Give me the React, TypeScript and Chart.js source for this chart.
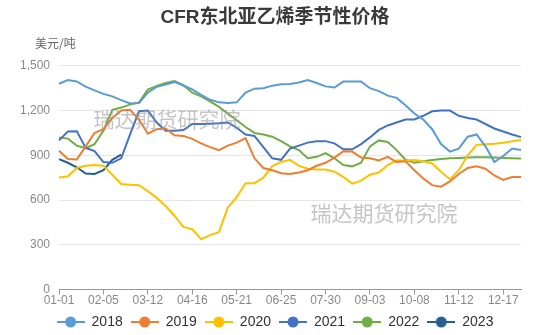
import React, { useEffect, useRef } from 'react';
import { Chart, registerables } from 'chart.js';

Chart.register(...registerables);

const TITLE = 'CFR东北亚乙烯季节性价格';
const UNIT = '美元/吨';
const WATERMARK = '瑞达期货研究院';
const TICK_LABELS = ['01-01', '02-05', '03-12', '04-16', '05-21', '06-25', '07-30', '09-03', '10-08', '11-12', '12-17'];
const Y_TICKS = [0, 300, 600, 900, 1200, 1500];
const YEARS = ['2018', '2019', '2020', '2021', '2022', '2023'];
const COLORS = ['#5B9BD5', '#ED7D31', '#FFC000', '#4472C4', '#70AD47', '#255E91'];
const MONTH_DAYS = [31, 28, 31, 30, 31, 30, 31, 31, 30, 31, 30, 31];

// day-of-year index (0 = 01-01) of each weekly reading
const SAMPLE_DAYS = [0, 7, 14, 21, 28, 35, 42, 49, 56, 63, 70, 77, 84, 91, 98, 105, 112, 119, 126, 133, 140, 147, 154, 161, 168, 175, 182, 189, 196, 203, 210, 217, 224, 231, 238, 245, 252, 259, 266, 273, 280, 287, 294, 301, 308, 315, 322, 329, 336, 343, 350, 357, 364];

const S2018 = [1380, 1405, 1395, 1360, 1335, 1312, 1295, 1270, 1248, 1250, 1320, 1360, 1375, 1392, 1368, 1342, 1305, 1272, 1255, 1250, 1255, 1320, 1347, 1350, 1367, 1376, 1378, 1388, 1405, 1385, 1362, 1354, 1394, 1394, 1394, 1350, 1330, 1300, 1285, 1235, 1180, 1140, 1075, 975, 925, 945, 1025, 1040, 960, 855, 895, 945, 935];
const S2019 = [930, 875, 872, 960, 1050, 1075, 1150, 1200, 1205, 1140, 1045, 1075, 1080, 1035, 1030, 1010, 980, 955, 935, 965, 985, 1015, 880, 815, 800, 780, 775, 785, 800, 830, 850, 885, 928, 925, 885, 880, 865, 890, 855, 860, 800, 745, 700, 690, 725, 775, 815, 826, 810, 765, 735, 755, 755];
const S2020 = [752, 760, 815, 830, 835, 830, 770, 708, 702, 700, 660, 615, 560, 495, 420, 405, 338, 365, 385, 550, 620, 713, 713, 750, 828, 855, 870, 830, 810, 805, 805, 790, 755, 710, 730, 770, 785, 835, 865, 865, 868, 860, 845, 790, 740, 800, 900, 970, 975, 978, 985, 995, 1002];
const S2021 = [1000, 1060, 1062, 950, 928, 855, 850, 880, 1040, 1195, 1200, 1120, 1064, 1064, 1070, 1110, 1110, 1112, 1115, 1120, 1085, 1040, 1030, 955, 880, 870, 945, 965, 985, 995, 995, 980, 940, 940, 975, 1020, 1070, 1100, 1120, 1140, 1140, 1165, 1195, 1200, 1200, 1165, 1150, 1140, 1110, 1080, 1060, 1040, 1022];
const S2022 = [1020, 1012, 965, 948, 975, 1065, 1205, 1220, 1240, 1255, 1340, 1365, 1385, 1398, 1370, 1320, 1295, 1262, 1225, 1180, 1135, 1090, 1050, 1040, 1025, 995, 960, 935, 880, 890, 915, 880, 835, 826, 850, 960, 1000, 990, 935, 870, 850, 860, 868, 875, 880, 882, 885, 887, 887, 885, 882, 880, 878];
const S2023 = [875, 850, 820, 778, 775, 800, 870, 905];

const SERIES = [S2018, S2019, S2020, S2021, S2022, S2023];

// category labels MM-DD for every day of the year
const DAY_LABELS: string[] = [];
MONTH_DAYS.forEach((n, m) => {
  for (let d = 1; d <= n; d++) {
    DAY_LABELS.push(String(m + 1).padStart(2, '0') + '-' + String(d).padStart(2, '0'));
  }
});

const FONT = "'Helvetica Neue', Arial, 'Liberation Sans', 'Noto Sans CJK SC', sans-serif";
const CJK_FONT = "'Noto Sans CJK SC', sans-serif";

function makeMarker(color: string) {
  const cv = document.createElement('canvas');
  cv.width = 28;
  cv.height = 14;
  const g = cv.getContext('2d')!;
  g.strokeStyle = color;
  g.lineWidth = 2;
  g.beginPath();
  g.moveTo(0, 7);
  g.lineTo(28, 7);
  g.stroke();
  g.fillStyle = color;
  g.beginPath();
  g.arc(14, 7, 5.5, 0, Math.PI * 2);
  g.fill();
  return cv;
}

const extrasPlugin = {
  id: 'extras',
  afterDatasetsDraw(chart: any) {
    const ctx = chart.ctx;
    ctx.save();
    ctx.font = `21px ${CJK_FONT}`;
    ctx.fillStyle = 'rgba(150,150,150,0.55)';
    ctx.textAlign = 'center';
    ctx.textBaseline = 'middle';
    ctx.fillText(WATERMARK, 167, 119);
    ctx.fillText(WATERMARK, 384, 213);
    ctx.restore();
  },
  afterDraw(chart: any) {
    const ctx = chart.ctx;
    ctx.save();
    ctx.font = `12px ${CJK_FONT}`;
    ctx.fillStyle = '#666';
    ctx.textAlign = 'left';
    ctx.textBaseline = 'middle';
    ctx.fillText(UNIT, 35, 43);
    ctx.restore();
  },
};

export default function App() {
  const ref = useRef<HTMLCanvasElement>(null);
  useEffect(() => {
    document.body.style.margin = '0';
    Chart.defaults.font.family = FONT;
    const markers = COLORS.map(makeMarker);
    const chart = new Chart(ref.current!, {
      type: 'line',
      data: {
        labels: DAY_LABELS,
        datasets: SERIES.map((s, i) => ({
          label: YEARS[i],
          data: s.map((v, k) => ({ x: DAY_LABELS[SAMPLE_DAYS[k]], y: v })),
          borderColor: COLORS[i],
          backgroundColor: COLORS[i],
          borderWidth: 2,
          pointRadius: 0,
          pointHoverRadius: 0,
          pointStyle: markers[i] as any,
          tension: 0,
          fill: false,
        })),
      },
      options: {
        responsive: true,
        maintainAspectRatio: false,
        animation: false,
        layout: { padding: { left: 0, right: 0, top: 0, bottom: -4 } },
        plugins: {
          title: {
            display: true,
            text: TITLE,
            color: '#3a3a3a',
            font: { size: 19, weight: 'bold', family: FONT },
            padding: { top: 6, bottom: 37 },
          },
          legend: {
            display: true,
            position: 'bottom',
            labels: {
              usePointStyle: true,
              pointStyleWidth: 28,
              color: '#333',
              font: { size: 14 },
              padding: 8,
            },
          },
          tooltip: { enabled: false },
        },
        scales: {
          x: {
            type: 'category',
            grid: { drawOnChartArea: false, drawTicks: true, tickLength: 5, color: '#999' },
            border: { color: '#999' },
            ticks: {
              autoSkip: false,
              maxRotation: 0,
              padding: -1,
              color: '#888',
              font: { size: 12 },
            },
            afterBuildTicks: (s: any) => {
              s.ticks = s.ticks.filter((t: any) => TICK_LABELS.includes(DAY_LABELS[t.value]));
            },
          },
          y: {
            min: 0,
            max: 1500,
            afterBuildTicks: (s: any) => {
              s.ticks = Y_TICKS.map((v) => ({ value: v }));
            },
            ticks: {
              color: '#888',
              font: { size: 12 },
              padding: 9,
              callback: (v: any) => Number(v).toLocaleString('en-US'),
            },
            grid: { color: '#e6e6e6', drawTicks: false },
            border: { display: false },
            afterFit: (s: any) => {
              s.width = 59;
            },
          },
          yRight: {
            position: 'right',
            min: 0,
            max: 1,
            display: true,
            ticks: { display: false },
            grid: { display: false },
            border: { display: false },
            afterFit: (s: any) => {
              s.width = 29;
            },
          },
        },
      } as any,
      plugins: [extrasPlugin],
    });
    return () => chart.destroy();
  }, []);
  return (
    <div style={{ position: 'absolute', left: 0, top: 0, width: 550, height: 335 }}>
      <canvas ref={ref} />
    </div>
  );
}
